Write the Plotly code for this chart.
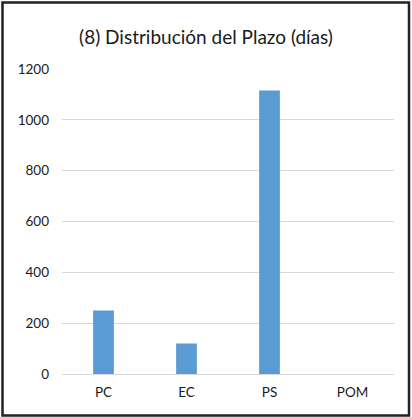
import plotly.graph_objects as go

categories = ["PC", "EC", "PS", "POM"]
values = [250, 120, 1115, 0]
y_ticks = [0, 200, 400, 600, 800, 1000, 1200]
title_text = "(8) Distribución del Plazo (días)"

W, H = 412, 417
L, R, T, B = 62, 18, 69, 43
pw, ph = W - L - R, H - T - B

def px(x):
    return (x - L) / pw

def py(y):
    return (H - B - y) / ph

fig = go.Figure(go.Bar(
    x=categories, y=values,
    marker=dict(color="#5B9BD5", line=dict(width=0)),
))

fig.update_layout(
    width=W, height=H,
    margin=dict(l=L, r=R, t=T, b=B),
    paper_bgcolor="white", plot_bgcolor="white",
    bargap=0.75,
    showlegend=False,
    font=dict(family="Lato, Open Sans, sans-serif", color="#1a1a1a", size=13),
    title=dict(text=title_text, x=0.5, xanchor="center", y=1 - 37 / H, yanchor="middle",
               font=dict(size=19, color="#1a1a1a")),
    xaxis=dict(showgrid=False, showline=False, ticks="", ticklabelstandoff=8,
               tickfont=dict(size=13.5)),
    yaxis=dict(range=[0, 1200], tickvals=y_ticks, showgrid=True, gridcolor="#D9D9D9",
               gridwidth=1, zeroline=True, zerolinecolor="#D9D9D9", zerolinewidth=1,
               showline=False, ticks="", ticklabelstandoff=12, tickfont=dict(size=13.5)),
    shapes=[dict(type="rect", xref="paper", yref="paper",
                 x0=px(2.5), x1=px(409), y0=py(2.5), y1=py(415.5),
                 line=dict(color="#222222", width=2.5), fillcolor="rgba(0,0,0,0)", layer="above")],
)

fig.write_html("out.html", config={"displayModeBar": False},
               post_script="document.body.style.margin='0';")
